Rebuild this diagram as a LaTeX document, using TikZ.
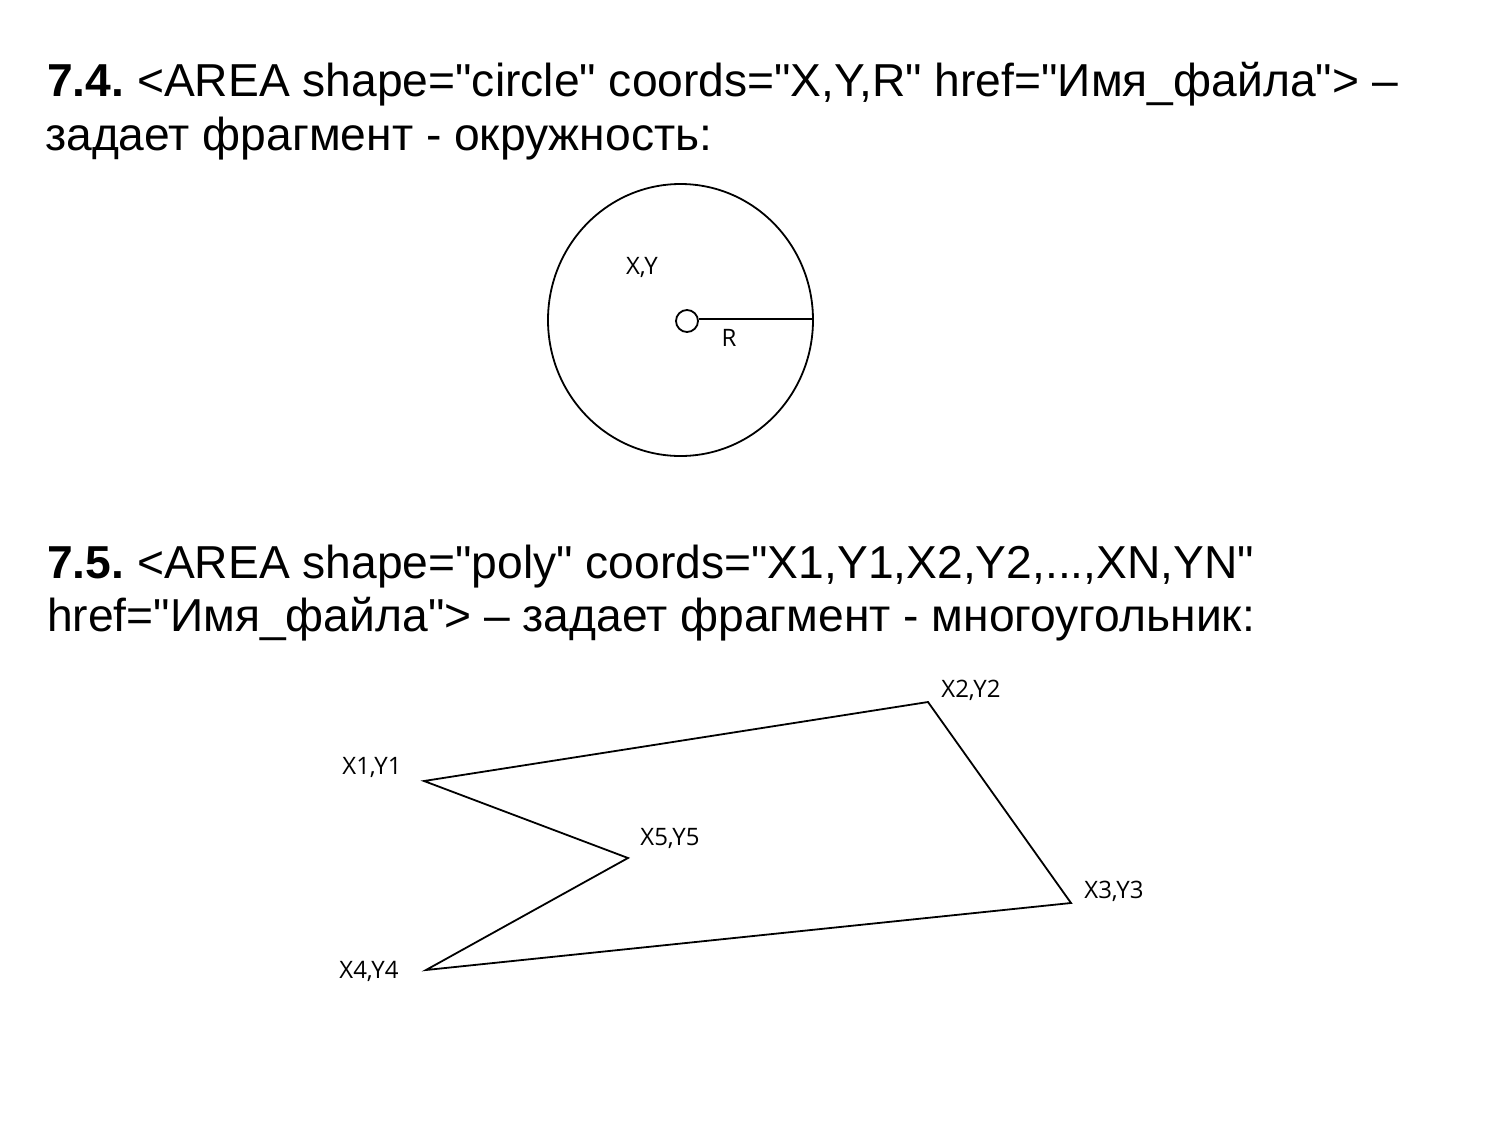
\documentclass[tikz,border=0pt]{standalone}
\usepackage{fontspec}
\usetikzlibrary{shapes.geometric}
\setmainfont{Liberation Sans}[Ligatures=TeXOff]
\newfontfamily\labelfont{Open Sans}
\frenchspacing
\begin{document}
\begin{tikzpicture}[x=1pt,y=-1pt,
  title/.style={anchor=base west,inner sep=0pt,font=\fontsize{46.2}{54}\selectfont},
  lbl/.style={inner sep=0pt,font=\labelfont\fontsize{24}{28}\selectfont},
  edge/.style={line width=1.8pt,line join=miter}]
\useasboundingbox[fill=white] (0,0) rectangle (1500,1125);
% Section 7.4
\node[title] (t1) at (47,96) {\textbf{7.4.} <AREA shape="circle" coords="X,Y,R" href="Имя\_файла"> –};
\node[title] (t2) at (45,150) {задает фрагмент - окружность:};
% circle
\node[draw,ellipse,line width=1.8pt,minimum width=265pt,minimum height=272pt,inner sep=0pt] (big) at (680.5,320) {};
\node[draw,circle,line width=1.8pt,minimum size=22pt,inner sep=0pt] (ctr) at (687,321) {};
\coordinate (redge) at (813,319);
\draw[edge] (ctr.east |- redge) -- (redge);
\node[lbl] (xy) at (642,267) {X,Y};
\node[lbl] (r) at (729,338) {R};
% Section 7.5
\node[title] (t3) at (47,578) {\textbf{7.5.} <AREA shape="poly" coords="X1,Y1,X2,Y2,...,XN,YN"};
\node[title] (t4) at (47,631) {href="Имя\_файла"> – задает фрагмент - многоугольник:};
% polygon
\coordinate (p1) at (424,781);
\coordinate (p2) at (928,702);
\coordinate (p3) at (1071,903);
\coordinate (p4) at (426,970);
\coordinate (p5) at (628,858);
\draw[edge] (p1) -- (p2) -- (p3) -- (p4) -- (p5) -- cycle;
\node[lbl] (l2) at (971,690) {X2,Y2};
\node[lbl] (l1) at (372,767) {X1,Y1};
\node[lbl] (l5) at (670,838) {X5,Y5};
\node[lbl] (l3) at (1114,891) {X3,Y3};
\node[lbl] (l4) at (369,971) {X4,Y4};
\end{tikzpicture}
\end{document}
